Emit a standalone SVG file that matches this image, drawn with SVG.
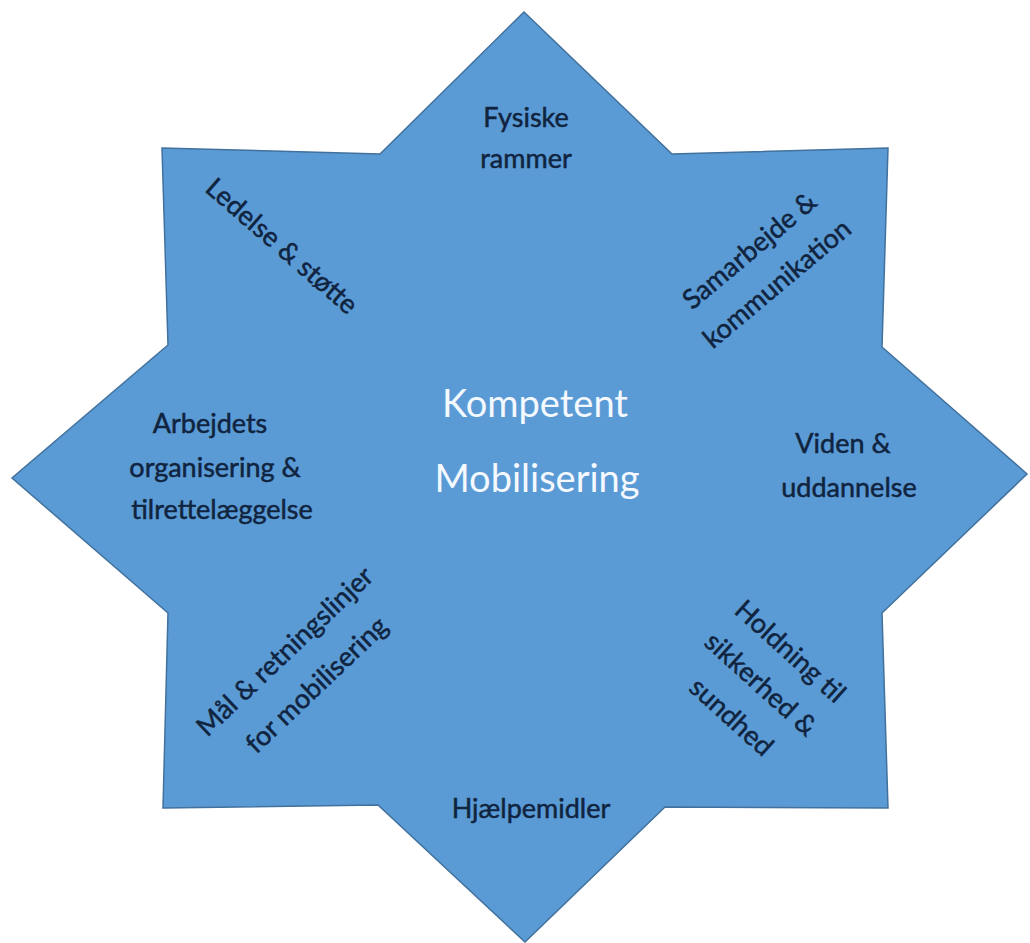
<svg xmlns="http://www.w3.org/2000/svg" width="1030" height="943" viewBox="0 0 1030 943">
<style>
.lbl{font-family:Lato,"Open Sans","Liberation Sans",sans-serif;font-size:27px;fill:#10243f;stroke:#10243f;stroke-width:0.5;text-anchor:middle}
.ctr{font-family:Lato,"Open Sans","Liberation Sans",sans-serif;font-size:38px;fill:#f4f9ff;text-anchor:middle}
</style>
<rect width="1030" height="943" fill="#ffffff"/>
<g id="star">
<polygon points="524,12 672,154 888,148 882,347 1027,474 882,613 888,808 665,807 525,942 378,805 163,808 168,613 12,478 168,345 162,148 380,154" fill="#5b9bd5" stroke="#41719c" stroke-width="1.5" stroke-linejoin="miter"/>
</g>
<g id="connectors"/>
<g id="center">
<text class="ctr" x="535" y="417">Kompetent</text>
<text class="ctr" x="537" y="492">Mobilisering</text>
</g>
<g id="fysiske">
<text class="lbl" x="526" y="127">Fysiske</text>
<text class="lbl" x="526" y="168">rammer</text>
</g>
<g id="samarbejde" transform="translate(764,268) rotate(-40)">
<text class="lbl" x="0" y="-13.5">Samarbejde &amp;</text>
<text class="lbl" x="0" y="29.5">kommunikation</text>
</g>
<g id="viden">
<text class="lbl" x="843" y="453">Viden &amp;</text>
<text class="lbl" x="849" y="497">uddannelse</text>
</g>
<g id="holdning" transform="translate(760,685) rotate(42)">
<text class="lbl" x="0" y="-36">Holdning til</text>
<text class="lbl" x="0" y="8">sikkerhed &amp;</text>
<text class="lbl" x="0" y="52">sundhed</text>
</g>
<g id="hjaelpemidler">
<text class="lbl" x="531" y="818">Hjælpemidler</text>
</g>
<g id="maal" transform="translate(301.5,669) rotate(-43.5)">
<text class="lbl" x="0" y="-15">Mål &amp; retningslinjer</text>
<text class="lbl" x="0" y="31">for mobilisering</text>
</g>
<g id="arbejdets">
<text class="lbl" x="210" y="433">Arbejdets</text>
<text class="lbl" x="215" y="477">organisering &amp;</text>
<text class="lbl" x="222" y="519">tilrettelæggelse</text>
</g>
<g id="ledelse" transform="translate(281,247) rotate(41)">
<text class="lbl" x="0" y="8">Ledelse &amp; støtte</text>
</g>
</svg>
